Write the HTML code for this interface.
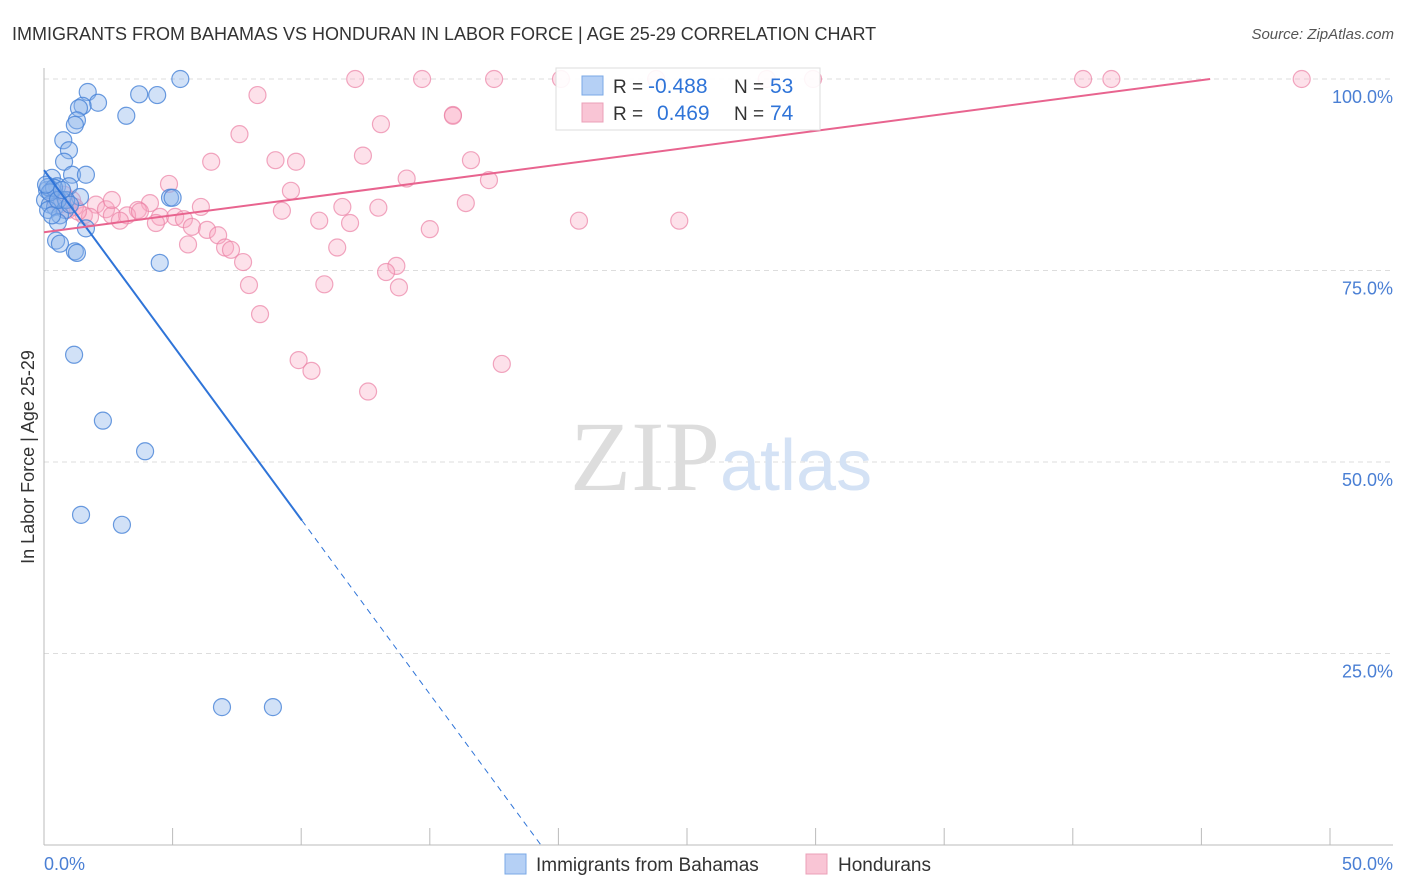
<!DOCTYPE html>
<html><head><meta charset="utf-8"><style>
body{margin:0;background:#fff;font-family:"Liberation Sans",sans-serif;}
#c{position:relative;width:1406px;height:892px;overflow:hidden}
</style></head><body>
<div id="c">
<svg id="s" width="1406" height="892"></svg>
</div>
<script>
const bahamasX=[5.3,1.7,3.7,4.4,2.1,1.5,1.36,3.2,1.28,1.2,0.75,0.97,0.78,1.09,1.63,0.31,0.51,0.97,0.31,0.12,1.4,0.7,0.04,4.9,5.0,0.23,0.43,0.82,0.16,0.62,0.54,1.63,0.47,0.62,1.2,1.28,4.5,1.17,2.29,3.93,1.44,3.03,6.92,8.9,0.16,0.39,0.86,0.23,0.54,1.01,0.08,0.31,0.7];
const bahamasY=[100,98.3,98.0,97.9,96.9,96.5,96.2,95.2,94.6,94.0,92.0,90.7,89.2,87.5,87.5,87.1,86.0,86.0,85.5,85.5,84.6,84.2,84.2,84.5,84.5,83.6,83.3,82.9,82.9,82.2,81.3,80.5,78.9,78.5,77.5,77.3,76.0,64.0,55.4,51.4,43.1,41.8,18.0,18.0,85.9,85.8,84.2,85.2,84.2,83.6,86.2,82.2,85.5];
const hondX=[12.1,14.7,17.5,20.1,23.8,28.1,29.9,40.4,41.5,48.9,8.3,15.9,15.9,13.1,7.6,12.4,6.5,9.0,9.8,16.6,14.1,17.3,4.86,9.6,4.12,6.1,2.02,2.41,9.25,11.6,13.0,16.4,3.65,2.64,3.23,1.55,1.79,4.51,5.1,5.44,2.95,4.35,10.7,11.9,20.8,24.7,5.75,6.34,6.77,15.0,5.6,7.04,7.27,11.4,13.7,7.74,13.3,7.97,10.9,13.8,8.4,9.9,10.4,17.8,12.6,0.93,1.09,0.62,0.78,1.2,1.32,0.43,3.73,2.64];
const hondY=[100,100,100,100,100,100,100,100,100,100,97.9,95.3,95.2,94.1,92.8,90.0,89.2,89.4,89.2,89.4,87.0,86.8,86.3,85.4,83.8,83.3,83.6,83.0,82.8,83.3,83.2,83.8,82.9,82.2,82.2,82.2,82.0,82.0,82.0,81.7,81.5,81.2,81.5,81.2,81.5,81.5,80.7,80.3,79.6,80.4,78.4,78.0,77.7,78.0,75.6,76.1,74.8,73.1,73.2,72.8,69.3,63.3,61.9,62.8,59.2,82.9,84.2,83.6,84.9,83.3,82.7,84.2,82.7,84.2];
const xTicks=["0.0%","50.0%"];
const yTickVals=[100,75,50,25];
const blueLine={a:88.1,b:-4.56,solidEnd:10.03,end:19.3};
const pinkLine={a:80.0,b:0.441,end:45.34};
const NS="http://www.w3.org/2000/svg";
const s=document.getElementById('s');
const X=v=>44+v/50*1286, Y=v=>845-v/100*766;
function el(t,a,p){const e=document.createElementNS(NS,t);for(const k in a)e.setAttribute(k,a[k]);(p||s).appendChild(e);return e;}
function tx(x,y,str,a,p){const e=el('text',Object.assign({x:x,y:y},a),p);e.textContent=str;return e;}
let t=tx(12,40,"IMMIGRANTS FROM BAHAMAS VS HONDURAN IN LABOR FORCE | AGE 25-29 CORRELATION CHART",{"font-size":18,fill:"#333"});

t=tx(1394,39,"Source: ZipAtlas.com",{"font-size":15,fill:"#555","text-anchor":"end","font-style":"italic"});

yTickVals.forEach(v=>{const g=el('line',{x1:44,x2:1393,y1:Y(v),y2:Y(v),stroke:"#ddd","stroke-dasharray":"5,4"});

const l=tx(1393,Y(v)+24,v.toFixed(1)+"%",{"font-size":18,fill:"#4a7fd4","text-anchor":"end"});
});
let ax=el('line',{x1:44,x2:44,y1:68,y2:845,stroke:"#bbb"});
ax=el('line',{x1:44,x2:1393,y1:845,y2:845,stroke:"#bbb"});
for(let i=0;i<=10;i++){const k=el('line',{x1:X(i*5),x2:X(i*5),y1:828,y2:845,stroke:"#bbb"});}
t=tx(44,870,xTicks[0],{"font-size":18,fill:"#4a7fd4"});
t=tx(1393,870,xTicks[1],{"font-size":18,fill:"#4a7fd4","text-anchor":"end"});
t=tx(34,457,"In Labor Force | Age 25-29",{"font-size":18,fill:"#333","text-anchor":"middle",transform:"rotate(-90 34 457)"});

t=tx(720,490,"ZIP",{"font-size":100,fill:"#ddd","text-anchor":"end","font-family":"Liberation Serif"});
t=tx(720,490,"atlas",{"font-size":72,fill:"#d4e2f5"});
hondX.forEach((v,i)=>{const c=el('circle',{cx:X(v),cy:Y(hondY[i]),r:8.5,fill:"rgba(248,170,195,0.35)",stroke:"rgba(235,130,165,0.7)","stroke-width":1.2});
});
bahamasX.forEach((v,i)=>{const c=el('circle',{cx:X(v),cy:Y(bahamasY[i]),r:8.5,fill:"rgba(140,180,235,0.4)",stroke:"rgba(70,130,215,0.8)","stroke-width":1.2});
});
let ln=el('line',{x1:X(0),y1:Y(blueLine.a),x2:X(blueLine.solidEnd),y2:Y(blueLine.a+blueLine.b*blueLine.solidEnd),stroke:"#2f74d8","stroke-width":2});

ln=el('line',{x1:X(blueLine.solidEnd),y1:Y(blueLine.a+blueLine.b*blueLine.solidEnd),x2:X(blueLine.end),y2:Y(blueLine.a+blueLine.b*blueLine.end),stroke:"#2f74d8","stroke-width":1,"stroke-dasharray":"6,5"});

ln=el('line',{x1:X(0),y1:Y(pinkLine.a),x2:X(pinkLine.end),y2:Y(pinkLine.a+pinkLine.b*pinkLine.end),stroke:"#e8648f","stroke-width":2});

const lg=el('g',{});
el('rect',{x:556,y:68,width:264,height:62,fill:"rgba(255,255,255,0.9)",stroke:"#ddd"},lg);
el('rect',{x:582,y:76,width:21,height:19,fill:"#b5d0f5",stroke:"#7aa8e6"},lg);
el('rect',{x:582,y:103,width:21,height:19,fill:"#f9c5d5",stroke:"#eba0b8"},lg);
tx(613,93,"R =",{"font-size":19,fill:"#333"},lg);
tx(648,93,"-0.488",{"font-size":21,fill:"#2f74d8"},lg);tx(734,93,"N =",{"font-size":19,fill:"#333"},lg);tx(770,93,"53",{"font-size":21,fill:"#2f74d8"},lg);
tx(613,120,"R =",{"font-size":19,fill:"#333"},lg);tx(657,120,"0.469",{"font-size":21,fill:"#2f74d8"},lg);tx(734,120,"N =",{"font-size":19,fill:"#333"},lg);tx(770,120,"74",{"font-size":21,fill:"#2f74d8"},lg);
const bl=el('g',{});
el('rect',{x:505,y:854,width:21,height:20,fill:"#b5d0f5",stroke:"#7aa8e6"},bl);
tx(536,871,"Immigrants from Bahamas",{"font-size":19,fill:"#333"},bl);
el('rect',{x:806,y:854,width:21,height:20,fill:"#f9c5d5",stroke:"#eba0b8"},bl);
tx(838,871,"Hondurans",{"font-size":19,fill:"#333"},bl);
</script>
</body></html>
